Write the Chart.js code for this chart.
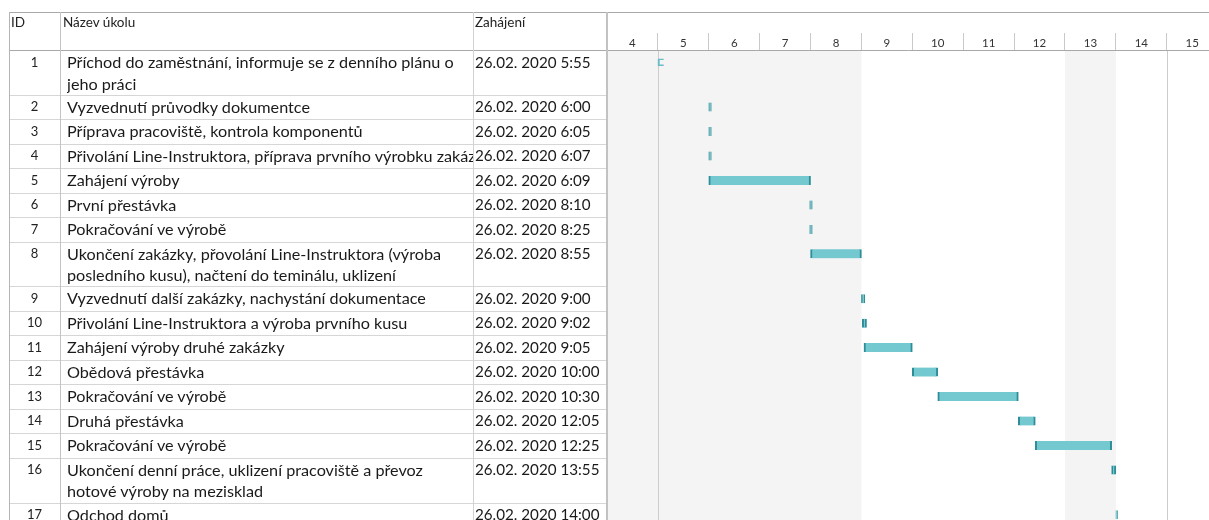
<!DOCTYPE html>
<html>
<head>
<meta charset="utf-8">
<script src="https://cdn.jsdelivr.net/npm/chart.js@4.4.1/dist/chart.umd.min.js"></script>
<style>
html,body{margin:0;padding:0;width:1209px;height:520px;overflow:hidden;background:#fff;}
body{font-family:Lato,"Noto Sans",sans-serif;color:#1a1a1a;position:relative;}
#wrap{position:absolute;left:607px;top:0;width:602px;height:527px;}
#tbl{position:absolute;left:0;top:0;width:1209px;height:520px;pointer-events:none;}
.ln{position:absolute;background:#cfcfcf;}
.cell{position:absolute;box-sizing:border-box;overflow:hidden;white-space:pre;}
.hd{font-size:13.5px;line-height:16px;color:#222;}
.nm{font-size:16.2px;line-height:21.5px;padding-top:1px;}
.dt{font-size:15.2px;line-height:21.5px;padding-top:1.5px;}
.id{font-size:13px;line-height:21.5px;padding-top:1.5px;text-align:center;color:#222;}
</style>
</head>
<body>
<div id="wrap"><canvas id="c"></canvas></div>
<div id="tbl"></div>
<script>
// ---- data ----
const headers = ["ID", "Název úkolu", "Zahájení"];
const taskIds = [1,2,3,4,5,6,7,8,9,10,11,12,13,14,15,16,17];
const taskNames = [
  "Příchod do zaměstnání, informuje se z denního plánu o\njeho práci",
  "Vyzvednutí průvodky dokumentce",
  "Příprava pracoviště, kontrola komponentů",
  "Přivolání Line-Instruktora, příprava prvního výrobku zakázky",
  "Zahájení výroby",
  "První přestávka",
  "Pokračování ve výrobě",
  "Ukončení zakázky, přovolání Line-Instruktora (výroba\nposledního kusu), načtení do teminálu, uklizení",
  "Vyzvednutí další zakázky, nachystání dokumentace",
  "Přivolání Line-Instruktora a výroba prvního kusu",
  "Zahájení výroby druhé zakázky",
  "Obědová přestávka",
  "Pokračování ve výrobě",
  "Druhá přestávka",
  "Pokračování ve výrobě",
  "Ukončení denní práce, uklizení pracoviště a převoz\nhotové výroby na mezisklad",
  "Odchod domů"
];
const startTexts = [
  "26.02. 2020 5:55","26.02. 2020 6:00","26.02. 2020 6:05","26.02. 2020 6:07",
  "26.02. 2020 6:09","26.02. 2020 8:10","26.02. 2020 8:25","26.02. 2020 8:55",
  "26.02. 2020 9:00","26.02. 2020 9:02","26.02. 2020 9:05","26.02. 2020 10:00",
  "26.02. 2020 10:30","26.02. 2020 12:05","26.02. 2020 12:25","26.02. 2020 13:55",
  "26.02. 2020 14:00"
];
// bar extents as drawn in the picture
const barStart = ["5:00","6:00","6:00","6:00","6:00","7:59","7:59","8:00","9:00","9:01","9:03","10:00","10:30","12:05","12:25","13:55","14:00"];
const barEnd   = ["5:07","6:03","6:03","6:03","8:00","8:02","8:02","9:00","9:04","9:06","10:00","10:30","12:05","12:25","13:55","14:00","14:02"];
const hourTicks = [4,5,6,7,8,9,10,11,12,13,14,15];
const axisMin = 4, axisMax = 15.83;
const shadedSpans = [[4,9],[13,14]];
const markerHours = [5,15];

// ---- derived ----
const toH = t => { const [h, m] = t.split(':').map(Number); return h + m / 60; };
const rowSpan = taskNames.map(n => 1 + (n.split('\n').length - 1) * 0.83);
const rowTop = []; let acc = 0;
rowSpan.forEach(s => { rowTop.push(acc); acc += s; });
const totalUnits = acc;
const barPoints = taskNames.map((n, i) => ({ x: [toH(barStart[i]), toH(barEnd[i])], y: rowTop[i] + 0.5 }));

const ganttBg = {
  id: 'ganttBg',
  beforeDatasetsDraw(chart) {
    const { ctx, chartArea: a, scales: { x } } = chart;
    ctx.save();
    ctx.fillStyle = '#f4f4f4';
    shadedSpans.forEach(([s, e]) => {
      const x1 = x.getPixelForValue(s), x2 = x.getPixelForValue(e);
      ctx.fillRect(x1, a.top + 1, x2 - x1, a.bottom - a.top);
    });
    ctx.strokeStyle = '#cdcdcd'; ctx.lineWidth = 1;
    markerHours.forEach(h => {
      const px = Math.round(x.getPixelForValue(h)) + 0.5;
      ctx.beginPath(); ctx.moveTo(px, a.top + 1); ctx.lineTo(px, a.bottom); ctx.stroke();
    });
    ctx.restore();
  }
};

const hourPx = 602 / (axisMax - axisMin);
const chart = new Chart(document.getElementById('c'), {
  type: 'bar',
  data: {
    datasets: [
      {
        data: barPoints.slice(0, 1),
        backgroundColor: 'rgba(255,255,255,0)',
        borderColor: '#6bbcc5',
        borderWidth: { left: 1.5, top: 1, bottom: 1, right: 0 },
        borderSkipped: false,
        barThickness: 7,
        grouped: false
      },
      {
        data: barPoints.slice(1),
        backgroundColor: '#74c9d1',
        borderColor: '#2e8e98',
        borderWidth: { left: 2, right: 2, top: 0, bottom: 0 },
        borderSkipped: false,
        barThickness: 9,
        grouped: false
      }
    ]
  },
  options: {
    indexAxis: 'y',
    responsive: true,
    maintainAspectRatio: false,
    animation: false,
    layout: { padding: { top: 12, left: 0, right: 0, bottom: 0 } },
    plugins: { legend: { display: false }, tooltip: { enabled: false } },
    scales: {
      x: {
        type: 'linear', position: 'top', min: axisMin, max: axisMax,
        afterBuildTicks: s => { s.ticks = hourTicks.map(v => ({ value: v })); },
        afterFit: s => { s.height = 38; },
        grid: { drawOnChartArea: false, drawTicks: true, tickLength: 17, color: '#c9c9c9', lineWidth: 1 },
        border: { display: true, color: '#a8a8a8' },
        ticks: {
          padding: -17.5, labelOffset: hourPx / 2, autoSkip: false, maxRotation: 0,
          color: '#333', font: { family: 'Lato', size: 11.5 },
          callback: v => String(v)
        }
      },
      y: { type: 'linear', reverse: true, offset: false, min: 0, max: totalUnits, display: false }
    }
  },
  plugins: [ganttBg]
});

// ---- table (positioned from the chart's y scale) ----
const tbl = document.getElementById('tbl');
const ys = chart.scales.y;
function div(cls, l, t, w, h, text, extra) {
  const d = document.createElement('div');
  d.className = cls;
  d.style.left = l + 'px'; d.style.top = t + 'px';
  d.style.width = w + 'px'; d.style.height = h + 'px';
  if (extra) Object.assign(d.style, extra);
  if (text !== undefined) d.textContent = text;
  tbl.appendChild(d);
  return d;
}
const colX = [9, 60, 473, 607];
const headTop = 12, headBottom = 50;
// header texts
div('cell hd', 11, 14, 48, 30, headers[0]);
div('cell hd', 63, 14, 400, 30, headers[1]);
div('cell hd', 475, 14, 130, 30, headers[2]);
// rows
taskNames.forEach((n, i) => {
  const t = ys.getPixelForValue(rowTop[i]);
  const b = ys.getPixelForValue(rowTop[i] + rowSpan[i]);
  div('cell id', colX[0], t, colX[1] - colX[0], b - t, String(taskIds[i]));
  div('cell nm', colX[1] + 7, t, colX[2] - colX[1] - 7, b - t, n);
  div('cell dt', colX[2] + 2, t, colX[3] - colX[2] - 2, b - t, startTexts[i]);
  div('ln', colX[0], Math.round(b), colX[3] - colX[0], 1, undefined, { background: '#d6d6d6' });
});
// lines
div('ln', colX[0], headTop, 1209 - colX[0], 1, undefined, { background: '#a9a9a9' });
div('ln', colX[0], headBottom, colX[3] - colX[0], 1, undefined, { background: '#a9a9a9' });
div('ln', colX[0], headTop, 1, 520 - headTop, undefined, { background: '#b5b5b5' });
div('ln', colX[1], headTop, 1, 520 - headTop, undefined, { background: '#c4c4c4' });
div('ln', colX[2], headTop, 1, 520 - headTop, undefined, { background: '#d2d2d2' });
div('ln', colX[3] - 1, headTop, 2, 520 - headTop, undefined, { background: '#c2c2c2' });
</script>
</body>
</html>
